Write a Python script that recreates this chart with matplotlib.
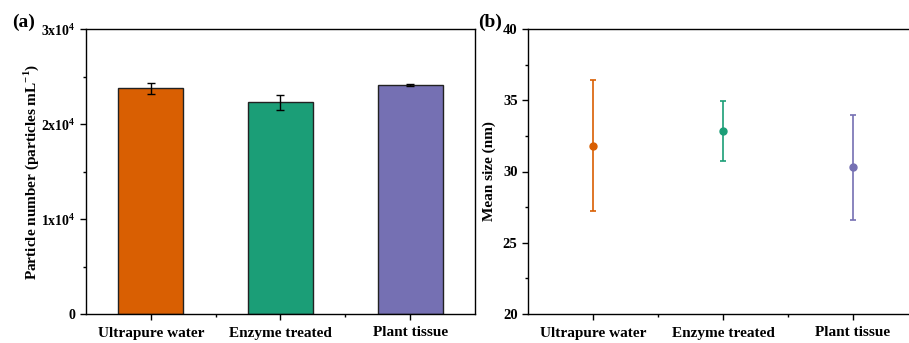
import numpy as np
import matplotlib.pyplot as plt
from matplotlib.ticker import MultipleLocator, FixedLocator, FuncFormatter

plt.rcParams['font.family'] = ['Liberation Serif', 'DejaVu Serif']
plt.rcParams['font.weight'] = 'bold'
plt.rcParams['mathtext.fontset'] = 'custom'
plt.rcParams['mathtext.rm'] = 'Liberation Serif:bold'
plt.rcParams['mathtext.bf'] = 'Liberation Serif:bold'

# 数据
categories = ['Ultrapure water', 'Enzyme treated', 'Plant tissue']
colors = ['#D95F02', '#1B9E77', '#7570B3']
particle_num = [23750, 22300, 24100]
particle_err = [550, 800, 120]
mean_size = [31.8, 32.85, 30.3]
mean_size_err = [4.6, 2.1, 3.7]

fig = plt.figure(figsize=(9.09, 3.43), dpi=100)
W, H = 909, 343
ax1 = fig.add_axes([86 / W, 1 - 314 / H, (475 - 86) / W, 285 / H])
ax2 = fig.add_axes([528 / W, 1 - 314 / H, (918 - 528) / W, 285 / H])

x = np.arange(len(categories))

# 图(a): 颗粒数
ax1.bar(x, particle_num, width=0.5, color=colors, edgecolor='#222222', linewidth=1.0)
ax1.errorbar(x, particle_num, yerr=particle_err, fmt='none', ecolor='black',
             elinewidth=1.0, capsize=3, capthick=1.0)
ax1.set_xlim(-0.5, 2.5)
ax1.set_ylim(0, 30000)
ax1.yaxis.set_major_locator(MultipleLocator(10000))
ax1.yaxis.set_minor_locator(MultipleLocator(5000))


def sci_fmt(v, pos):
    if v == 0:
        return '0'
    return r'%dx10$^{4}$' % int(round(v / 10000))


ax1.yaxis.set_major_formatter(FuncFormatter(sci_fmt))
ax1.set_ylabel(r'Particle number (particles mL$^{\mathbf{-1}}$)', fontsize=11, fontweight='bold',
               labelpad=0)

# 图(b): 平均粒径
for i in range(len(categories)):
    ax2.errorbar(x[i], mean_size[i], yerr=mean_size_err[i], fmt='o', color=colors[i],
                 markersize=5, elinewidth=1.2, capsize=2.5, capthick=1.2)
ax2.set_xlim(-0.5, 2.5)
ax2.set_ylim(20, 40)
ax2.yaxis.set_major_locator(MultipleLocator(5))
ax2.yaxis.set_minor_locator(MultipleLocator(2.5))
ax2.set_ylabel('Mean size (nm)', fontsize=11, fontweight='bold', labelpad=5)

for ax in (ax1, ax2):
    ax.set_xticks(x)
    ax.set_xticklabels(categories, fontsize=11, fontweight='bold')
    ax.xaxis.set_minor_locator(FixedLocator([0.5, 1.5]))
    ax.tick_params(axis='both', which='major', direction='out', length=4, width=1,
                   top=False, right=False)
    ax.tick_params(axis='both', which='minor', direction='out', length=2.5, width=1,
                   top=False, right=False)
    ax.tick_params(axis='x', pad=5)
    for sp in ax.spines.values():
        sp.set_linewidth(1.0)

ax1.tick_params(axis='y', labelsize=10)
ax2.tick_params(axis='y', labelsize=10.5)
for ax in (ax1, ax2):
    for lbl in ax.get_yticklabels():
        lbl.set_fontweight('bold')

fig.text(12 / W, 1 - 22 / H, '(a)', fontsize=14, fontweight='bold', va='center')
fig.text(478 / W, 1 - 22 / H, '(b)', fontsize=14, fontweight='bold', va='center')

plt.savefig('out.png', dpi=100)
